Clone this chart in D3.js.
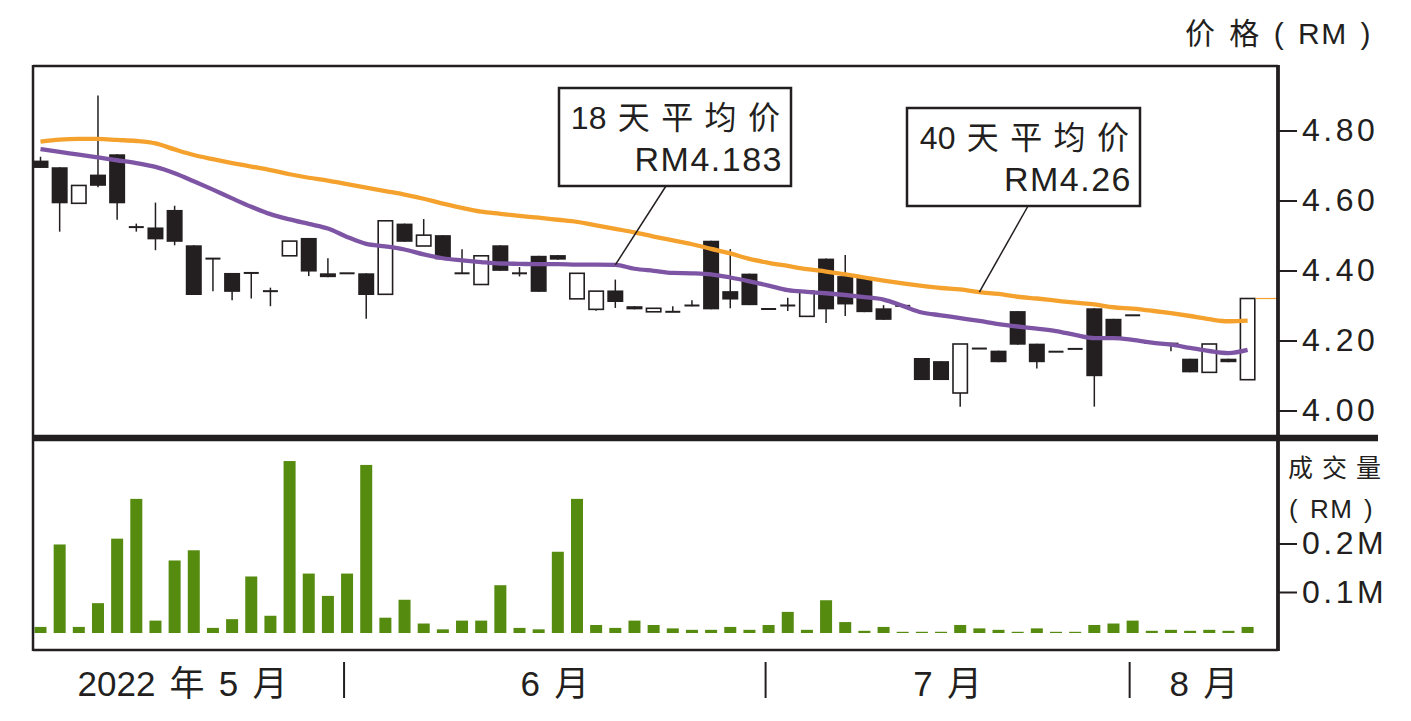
<!DOCTYPE html>
<html><head><meta charset="utf-8">
<script src="https://cdn.jsdelivr.net/npm/d3@7"></script>
<style>
html,body{margin:0;padding:0;background:#fff;}
svg{display:block;font-family:"Liberation Sans","Noto Sans CJK SC",Arial,sans-serif;}
</style></head><body>
<svg id="chart" width="1411" height="721"></svg>
<script>
// ---------- data ----------
const days = d3.range(1, 65);
const openP  = [4.714,4.695,4.592,4.674,4.732,4.524,4.523,4.573,4.472,4.434,4.393,4.393,4.341,4.442,4.493,4.392,
                4.392,4.392,4.332,4.534,4.470,4.501,4.392,4.360,4.472,4.392,4.442,4.444,4.319,4.289,4.343,4.298,
                4.282,4.282,4.300,4.485,4.341,4.391,4.290,4.300,4.269,4.434,4.384,4.379,4.292,4.299,4.150,4.141,
                4.050,4.177,4.171,4.284,4.191,4.168,4.176,4.292,4.262,4.272,4.193,4.191,4.148,4.109,4.148,4.088];
const highP  = [4.725,4.695,4.643,4.900,4.732,4.534,4.594,4.585,4.472,4.434,4.393,4.393,4.351,4.484,4.493,4.435,
                4.392,4.392,4.542,4.534,4.547,4.501,4.461,4.442,4.472,4.410,4.442,4.444,4.392,4.341,4.374,4.298,
                4.292,4.298,4.315,4.485,4.461,4.391,4.290,4.322,4.341,4.434,4.444,4.379,4.301,4.299,4.150,4.141,
                4.190,4.177,4.171,4.284,4.191,4.168,4.176,4.292,4.262,4.272,4.193,4.191,4.148,4.190,4.148,4.320];
const lowP   = [4.693,4.511,4.592,4.638,4.545,4.511,4.458,4.472,4.330,4.341,4.315,4.320,4.298,4.442,4.384,4.381,
                4.392,4.262,4.332,4.482,4.470,4.432,4.392,4.360,4.399,4.383,4.339,4.431,4.319,4.285,4.293,4.289,
                4.282,4.282,4.298,4.289,4.292,4.301,4.290,4.284,4.269,4.250,4.270,4.281,4.259,4.299,4.087,4.087,
                4.011,4.177,4.138,4.188,4.120,4.168,4.176,4.011,4.209,4.272,4.193,4.169,4.109,4.109,4.138,4.088];
const closeP = [4.693,4.592,4.643,4.642,4.592,4.524,4.489,4.482,4.330,4.434,4.339,4.393,4.341,4.484,4.397,4.381,
                4.392,4.330,4.542,4.482,4.501,4.432,4.392,4.442,4.399,4.392,4.339,4.431,4.392,4.341,4.310,4.289,
                4.292,4.282,4.300,4.289,4.317,4.301,4.290,4.300,4.341,4.289,4.303,4.281,4.259,4.299,4.087,4.087,
                4.190,4.177,4.138,4.188,4.138,4.168,4.176,4.098,4.209,4.272,4.193,4.191,4.109,4.190,4.138,4.320];
const ma18   = [4.747,4.739,4.731,4.723,4.715,4.707,4.696,4.678,4.655,4.631,4.606,4.582,4.561,4.546,4.533,4.520,
                4.496,4.476,4.469,4.460,4.446,4.435,4.429,4.424,4.420,4.419,4.418,4.418,4.417,4.417,4.416,4.405,
                4.399,4.393,4.392,4.389,4.380,4.369,4.357,4.344,4.339,4.335,4.330,4.324,4.317,4.299,4.280,4.272,
                4.264,4.256,4.247,4.240,4.234,4.227,4.216,4.207,4.207,4.202,4.194,4.188,4.179,4.170,4.164,4.173];
const ma40   = [4.768,4.774,4.776,4.776,4.773,4.770,4.763,4.746,4.730,4.718,4.707,4.697,4.687,4.675,4.665,4.657,
                4.647,4.637,4.627,4.617,4.605,4.591,4.579,4.568,4.562,4.556,4.551,4.545,4.539,4.529,4.519,4.509,
                4.497,4.486,4.475,4.462,4.449,4.433,4.422,4.413,4.404,4.397,4.389,4.380,4.371,4.363,4.356,4.350,
                4.346,4.338,4.333,4.325,4.320,4.314,4.308,4.303,4.295,4.291,4.285,4.278,4.270,4.261,4.255,4.257];
const volume = [0.028,0.198,0.028,0.077,0.210,0.292,0.041,0.165,0.186,0.026,0.044,0.132,0.051,0.370,0.138,0.092,
                0.138,0.362,0.047,0.084,0.035,0.023,0.041,0.041,0.114,0.026,0.023,0.183,0.292,0.032,0.026,0.041,
                0.032,0.025,0.022,0.022,0.028,0.022,0.032,0.059,0.022,0.083,0.038,0.020,0.028,0.017,0.018,0.018,
                0.032,0.025,0.022,0.018,0.025,0.017,0.017,0.032,0.035,0.041,0.020,0.022,0.020,0.022,0.020,0.028];
const priceTicks = [4.00, 4.20, 4.40, 4.60, 4.80];
const volTicks = [0.1, 0.2];
const monthLabels = ["2022 年 5 月", "6 月", "7 月", "8 月"];
const monthStartIdx = [0, 16, 38, 57];
const ma18Title = "18 天 平 均 价", ma18Text = "RM4.183", ma18Anchor = 30;
const ma40Title = "40 天 平 均 价", ma40Text = "RM4.26", ma40Anchor = 49;

// ---------- layout ----------
const INK = "#231f20", ORANGE = "#f4a22d", PURPLE = "#7d55a4", GREEN = "#558b0e";
const L = 33, R = 1278, TOP = 66, DIV = 438, BOT = 650, VOLBASE = 633;
const svg = d3.select("#chart");

const x = d3.scalePoint().domain(days).range([40.5, 1247.6]);
const y = d3.scaleLinear().domain([4.0, 4.8]).range([410.5, 130.5]);
const yv = d3.scaleLinear().domain([0.1, 0.2]).range([592, 543.5]);

svg.append("defs").append("clipPath").attr("id", "pclip")
  .append("rect").attr("x", L).attr("y", TOP).attr("width", R - L).attr("height", DIV - TOP);

const plot = svg.append("g").attr("clip-path", "url(#pclip)");

// candles
const candles = plot.append("g").selectAll("g").data(days).join("g");
candles.append("line")
  .attr("x1", d => x(d)).attr("x2", d => x(d))
  .attr("y1", (d, i) => y(highP[i])).attr("y2", (d, i) => y(lowP[i]))
  .attr("stroke", INK).attr("stroke-width", 1.5);
candles.each(function(d, i) {
  const g = d3.select(this);
  const o = openP[i], c = closeP[i];
  const cx = x(d);
  if (Math.abs(o - c) < 0.004) {
    g.append("line").attr("x1", cx - 7.5).attr("x2", cx + 7.5).attr("y1", y(o)).attr("y2", y(o))
      .attr("stroke", INK).attr("stroke-width", 2);
  } else if (c < o) {
    g.append("rect").attr("x", cx - 8).attr("width", 16)
      .attr("y", y(o)).attr("height", Math.max(2, y(c) - y(o))).attr("fill", INK);
  } else {
    g.append("rect").attr("x", cx - 7.2).attr("width", 14.4)
      .attr("y", y(c)).attr("height", y(o) - y(c)).attr("fill", "#fff")
      .attr("stroke", INK).attr("stroke-width", 1.6);
  }
});

// MA lines (drawn over the candles)
const line = arr => d3.line().x((d, i) => x(days[i])).y(d => y(d)).curve(d3.curveMonotoneX)(arr);
plot.append("path").attr("d", line(ma40)).attr("fill", "none").attr("stroke", ORANGE).attr("stroke-width", 4.3);
plot.append("path").attr("d", line(ma18)).attr("fill", "none").attr("stroke", PURPLE).attr("stroke-width", 4.3);

// last price marker
plot.append("line").attr("x1", x(days[63]) + 8).attr("x2", R).attr("y1", y(closeP[63])).attr("y2", y(closeP[63]))
  .attr("stroke", ORANGE).attr("stroke-width", 1.2);

// volume bars
svg.append("g").selectAll("rect").data(days).join("rect")
  .attr("x", d => x(d) - 6).attr("width", 12)
  .attr("y", (d, i) => Math.min(VOLBASE - 1.2, yv(volume[i])))
  .attr("height", (d, i) => VOLBASE - Math.min(VOLBASE - 1.2, yv(volume[i])))
  .attr("fill", GREEN);

// frame
const frame = svg.append("g").attr("stroke", INK).attr("fill", "none");
frame.append("line").attr("x1", L).attr("x2", R).attr("y1", TOP).attr("y2", TOP).attr("stroke-width", 2.5);
frame.append("line").attr("x1", L).attr("x2", L).attr("y1", TOP - 1).attr("y2", BOT + 1).attr("stroke-width", 2.5);
frame.append("line").attr("x1", L).attr("x2", R).attr("y1", BOT).attr("y2", BOT).attr("stroke-width", 2.5);
frame.append("line").attr("x1", R).attr("x2", R).attr("y1", TOP - 1).attr("y2", BOT + 1).attr("stroke-width", 3.8);
frame.append("line").attr("x1", L - 1).attr("x2", 1378).attr("y1", DIV).attr("y2", DIV).attr("stroke-width", 6.5);

// axes
function styleAxis(g) {
  g.select(".domain").remove();
  g.selectAll(".tick line").attr("stroke", INK).attr("stroke-width", 2);
  g.selectAll(".tick text").attr("fill", INK).attr("font-size", 32).attr("letter-spacing", 3.5)
    .attr("font-family", "Liberation Sans, Arial, sans-serif");
}
svg.append("g").attr("transform", `translate(${R + 1},0)`)
  .call(d3.axisRight(y).tickValues(priceTicks).tickSize(18).tickPadding(5).tickFormat(d3.format(".2f")))
  .call(styleAxis);
svg.append("g").attr("transform", `translate(${R + 1},0)`)
  .call(d3.axisRight(yv).tickValues(volTicks).tickSize(18).tickPadding(5).tickFormat(d => d.toFixed(1) + "M"))
  .call(styleAxis);

// axis titles
svg.append("text").attr("x", 1372).attr("y", 44).attr("text-anchor", "end")
  .attr("font-size", 30).attr("letter-spacing", 1.5).attr("word-spacing", 3).attr("fill", INK).text("价 格 ( RM )");
svg.append("text").attr("x", 1288).attr("y", 477)
  .attr("font-size", 25).attr("letter-spacing", 0.5).attr("word-spacing", 1).attr("fill", INK).text("成 交 量");
svg.append("text").attr("x", 1289).attr("y", 518)
  .attr("font-size", 26).attr("letter-spacing", 1.5).attr("word-spacing", 2).attr("fill", INK).text("( RM )");

// month separators and labels
const sepX = monthStartIdx.slice(1).map(i => x(days[i]) - 3);
svg.append("g").selectAll("line").data(sepX).join("line")
  .attr("x1", d => d).attr("x2", d => d).attr("y1", 662).attr("y2", 698)
  .attr("stroke", INK).attr("stroke-width", 2);
const bounds = [L].concat(sepX, [R]);
svg.append("g").selectAll("text").data(monthLabels).join("text")
  .attr("x", (d, i) => (bounds[i] + bounds[i + 1]) / 2 - (i === 0 ? 6 : 0))
  .attr("y", 696).attr("text-anchor", "middle")
  .attr("font-size", 35).attr("word-spacing", 4.5).attr("fill", INK).text(d => d);

// MA callouts
function callout(bx, by, bw, bh, title, txt, idx, arr, lx) {
  const g = svg.append("g");
  g.append("line").attr("x1", lx).attr("y1", by + bh).attr("x2", x(days[idx])).attr("y2", y(arr[idx]))
    .attr("stroke", INK).attr("stroke-width", 1.5);
  g.append("rect").attr("x", bx).attr("y", by).attr("width", bw).attr("height", bh)
    .attr("fill", "#fff").attr("stroke", INK).attr("stroke-width", 2.5);
  g.append("text").attr("x", bx + bw - 11).attr("y", by + 41).attr("text-anchor", "end")
    .attr("font-size", 32).attr("word-spacing", 2.5).attr("fill", INK).text(title);
  g.append("text").attr("x", bx + bw - 8).attr("y", by + 83).attr("text-anchor", "end")
    .attr("font-size", 34).attr("letter-spacing", 1.5).attr("fill", INK).text(txt);
}
callout(559, 88, 232, 98, ma18Title, ma18Text, ma18Anchor, ma18, 666);
callout(907, 108, 233, 98, ma40Title, ma40Text, ma40Anchor, ma40, 1028);
</script>
</body></html>
